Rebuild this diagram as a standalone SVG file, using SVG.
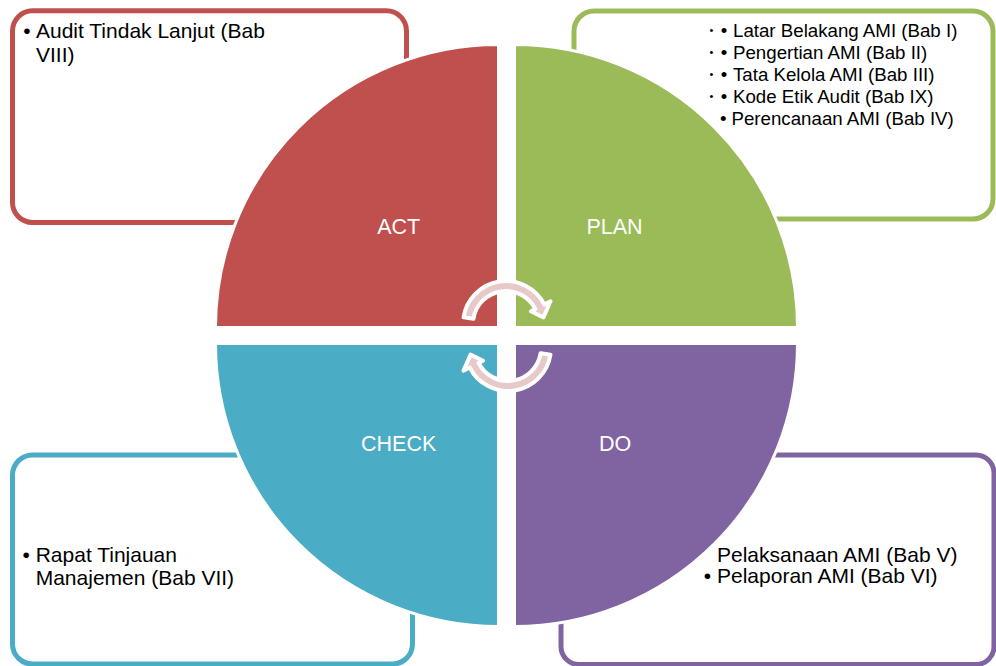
<svg xmlns="http://www.w3.org/2000/svg" width="996" height="666" viewBox="0 0 996 666">
  <style>
    .box { fill: #FFFFFF; stroke-width: 5; }
    .txt { font-family: "Liberation Sans", Arial, sans-serif; fill: #000000; font-size: 21px; }
    .sm { font-size: 18.7px; }
    .dot { font-size: 11px; }
    .q { stroke: #FFFFFF; stroke-width: 3; }
    .lbl { font-family: "Liberation Sans", Arial, sans-serif; fill: #FFFFFF; font-size: 21.5px; text-anchor: middle; }
    .arr { fill: #E8C9C9; stroke: #FFFFFF; stroke-width: 4; stroke-linejoin: round; }
  </style>
  <rect width="996" height="666" fill="#FFFFFF"/>

  <g id="box-act">
    <rect class="box" x="12.5" y="10.8" width="394" height="211.7" rx="20" stroke="#C0504D"/>
    <text class="txt" x="23.3" y="38.3">•</text>
    <text class="txt" x="36" y="38.3">Audit Tindak Lanjut (Bab</text>
    <text class="txt" x="36" y="61.5">VIII)</text>
  </g>

  <g id="box-plan">
    <rect class="box" x="574" y="11" width="419" height="208" rx="20" stroke="#9BBB59"/>
    <g class="txt sm">
      <text class="dot" x="709.6" y="33.5">•</text><text x="720.7" y="36.5">•</text><text x="733" y="36.5">Latar Belakang AMI (Bab I)</text>
      <text class="dot" x="709.6" y="55.5">•</text><text x="720.7" y="58.5">•</text><text x="733" y="58.5">Pengertian AMI (Bab II)</text>
      <text class="dot" x="709.6" y="77.5">•</text><text x="720.7" y="80.5">•</text><text x="733" y="80.5">Tata Kelola AMI (Bab III)</text>
      <text class="dot" x="709.6" y="99.5">•</text><text x="720.7" y="102.5">•</text><text x="733" y="102.5">Kode Etik Audit (Bab IX)</text>
      <text x="720" y="124.5">•</text><text x="731.5" y="124.5">Perencanaan AMI (Bab IV)</text>
    </g>
  </g>

  <g id="box-check">
    <rect class="box" x="12.5" y="455" width="400" height="209" rx="20" stroke="#4BACC6"/>
    <text class="txt" x="22.4" y="561.7">•</text>
    <text class="txt" x="35.7" y="561.7">Rapat Tinjauan</text>
    <text class="txt" x="35.7" y="585">Manajemen (Bab VII)</text>
  </g>

  <g id="box-do">
    <rect class="box" x="561" y="455" width="433" height="209.5" rx="18" stroke="#8064A2"/>
    <text class="txt" x="717" y="561.7">Pelaksanaan AMI (Bab V)</text>
    <text class="txt" x="703.8" y="583">•</text>
    <text class="txt" x="717" y="583">Pelaporan AMI (Bab VI)</text>
  </g>

  <g id="act">
    <path class="q" fill="#C0504D" d="M498.5,327.5 H215.5 A283,283 0 0 1 498.5,44.5 Z"/>
    <text class="lbl" x="398.7" y="234">ACT</text>
  </g>
  <g id="plan">
    <path class="q" fill="#9BBB59" d="M514.5,327.5 V44.5 A283,283 0 0 1 797.5,327.5 Z"/>
    <text class="lbl" x="614.5" y="234">PLAN</text>
  </g>
  <g id="do">
    <path class="q" fill="#8064A2" d="M514.5,343.5 H797.5 A283,283 0 0 1 514.5,626.5 Z"/>
    <text class="lbl" x="615" y="451">DO</text>
  </g>
  <g id="check">
    <path class="q" fill="#4BACC6" d="M498.5,343.5 V626.5 A283,283 0 0 1 215.5,343.5 Z"/>
    <text class="lbl" x="398.7" y="451">CHECK</text>
  </g>

  <g id="connectors">
    <defs>
      <path id="cyc" d="M463.53,317.27 A43,43 0 0 1 544.31,304.48 L550.55,301.30 L543.42,317.40 L530.95,311.29 L535.40,309.02 A33,33 0 0 0 473.41,318.84 Z"/>
    </defs>
    <use href="#cyc" class="arr"/>
    <use href="#cyc" class="arr" transform="rotate(180 507 336)"/>
  </g>
</svg>
